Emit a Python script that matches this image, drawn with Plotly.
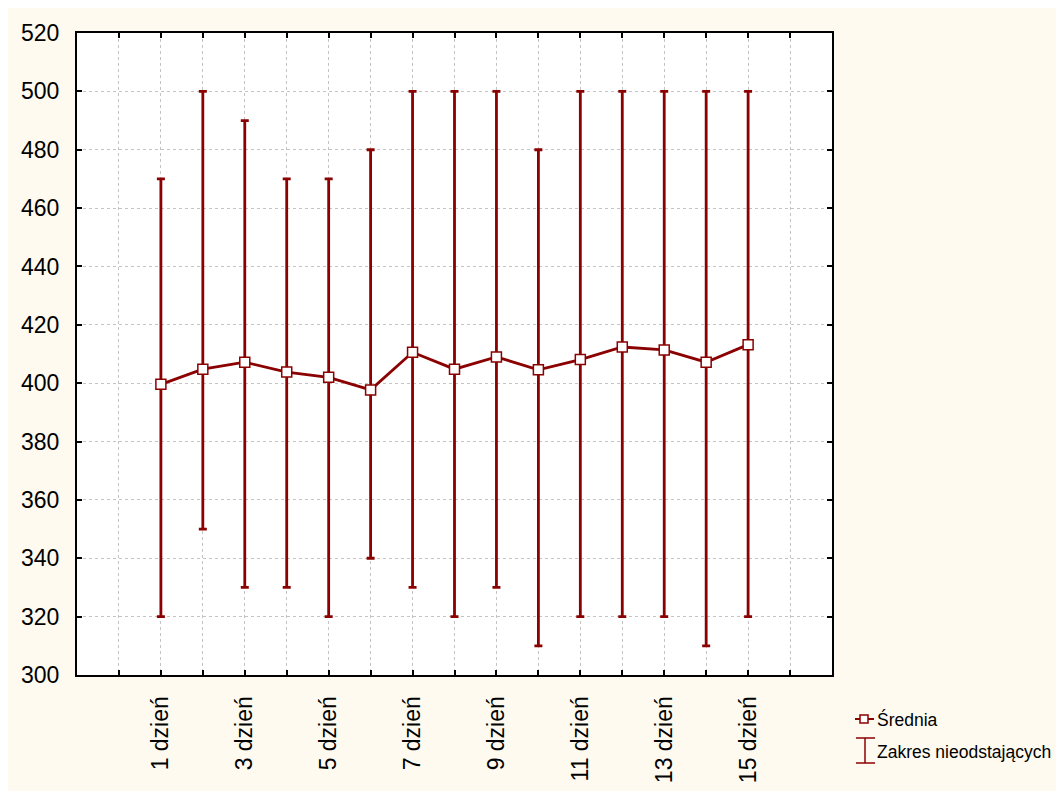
import plotly.graph_objects as go

# Days of the measurement series and their summary statistics
days = list(range(1, 16))
day_labels = [f"{d} dzień" for d in days]
means = [399.6, 404.8, 407.2, 403.8, 402.0, 397.7, 410.6, 404.8,
         409.0, 404.6, 408.1, 412.4, 411.4, 407.2, 413.2]
lows = [320, 350, 330, 330, 320, 340, 330, 320,
        330, 310, 320, 320, 320, 310, 320]
highs = [470, 500, 490, 470, 470, 480, 500, 500,
         500, 480, 500, 500, 500, 500, 500]

# Tick positions: one per day plus an empty slot at each end; every other day labelled
tick_vals = list(range(0, 17))
tick_text = [day_labels[v - 1] if 1 <= v <= 15 and v % 2 == 1 else "" for v in tick_vals]

W, H = 1059, 794
ML, MR, MT, MB = 77, 227, 33, 119
PW, PH = W - ML - MR, H - MT - MB
RED = "#8b0000"
CREAM = "#fefaf0"
FONT = "Liberation Sans, Arial, sans-serif"


def px_x(px):
    return (px - ML) / PW


def px_y(py):
    return (H - MB - py) / PH


fig = go.Figure()

# Whiskers: non-outlier range around each mean
fig.add_trace(go.Scatter(
    x=days, y=means, mode="markers",
    marker=dict(size=1, color="rgba(0,0,0,0)"),
    error_y=dict(type="data", symmetric=False,
                 array=[h - m for h, m in zip(highs, means)],
                 arrayminus=[m - l for m, l in zip(means, lows)],
                 color=RED, thickness=2.8, width=4),
    showlegend=False, hoverinfo="skip",
))

# Mean line with square markers
fig.add_trace(go.Scatter(
    x=days, y=means, mode="lines+markers",
    line=dict(color=RED, width=2.8),
    marker=dict(symbol="square", size=10, color="white",
                line=dict(color=RED, width=1.5)),
    showlegend=False,
))

shapes = [
    # cream panel behind everything
    dict(type="rect", xref="paper", yref="paper",
         x0=px_x(8), x1=px_x(1056), y0=px_y(791), y1=px_y(8),
         fillcolor=CREAM, line=dict(width=0), layer="below"),
    # white plotting area
    dict(type="rect", xref="paper", yref="paper",
         x0=0, x1=1, y0=0, y1=1,
         fillcolor="white", line=dict(width=0), layer="below"),
    # legend key: mean (line + square)
    dict(type="line", xref="paper", yref="paper",
         x0=px_x(855), x1=px_x(874), y0=px_y(719), y1=px_y(719),
         line=dict(color=RED, width=2)),
    dict(type="rect", xref="paper", yref="paper",
         x0=px_x(860), x1=px_x(868), y0=px_y(723), y1=px_y(715),
         fillcolor="white", line=dict(color=RED, width=1.5)),
    # legend key: non-outlier range (I-beam)
    dict(type="line", xref="paper", yref="paper",
         x0=px_x(865), x1=px_x(865), y0=px_y(763), y1=px_y(738),
         line=dict(color=RED, width=1.5)),
    dict(type="line", xref="paper", yref="paper",
         x0=px_x(856), x1=px_x(875), y0=px_y(738), y1=px_y(738),
         line=dict(color=RED, width=1.5)),
    dict(type="line", xref="paper", yref="paper",
         x0=px_x(856), x1=px_x(875), y0=px_y(763), y1=px_y(763),
         line=dict(color=RED, width=1.5)),
]

annotations = [
    dict(text="Średnia", xref="paper", yref="paper",
         x=px_x(875), y=px_y(719), xanchor="left", yanchor="middle",
         showarrow=False, font=dict(family=FONT, size=17.5, color="black")),
    dict(text="Zakres nieodstających", xref="paper", yref="paper",
         x=px_x(875), y=px_y(752), xanchor="left", yanchor="middle",
         showarrow=False, font=dict(family=FONT, size=17.5, color="black")),
]

axis_common = dict(
    showline=True, linecolor="black", linewidth=2, mirror="ticks",
    ticks="inside", ticklen=5, tickwidth=1.5, tickcolor="black",
    showgrid=True, gridcolor="#c4c4c4", gridwidth=1, griddash="3px,3px",
    zeroline=False, tickfont=dict(family=FONT, size=23, color="black"),
)

fig.update_layout(
    width=W, height=H, autosize=False,
    margin=dict(l=ML, r=MR, t=MT, b=MB, pad=0),
    paper_bgcolor="white", plot_bgcolor="white",
    shapes=shapes, annotations=annotations,
    showlegend=False,
    xaxis=dict(range=[-1, 17], tickmode="array", tickvals=tick_vals,
               ticktext=tick_text, tickangle=-90, ticklabelstandoff=10,
               **axis_common),
    yaxis=dict(range=[300, 520], tickmode="linear", tick0=300, dtick=20,
               ticklabelstandoff=11, **axis_common),
)

fig.write_html("out.html")
